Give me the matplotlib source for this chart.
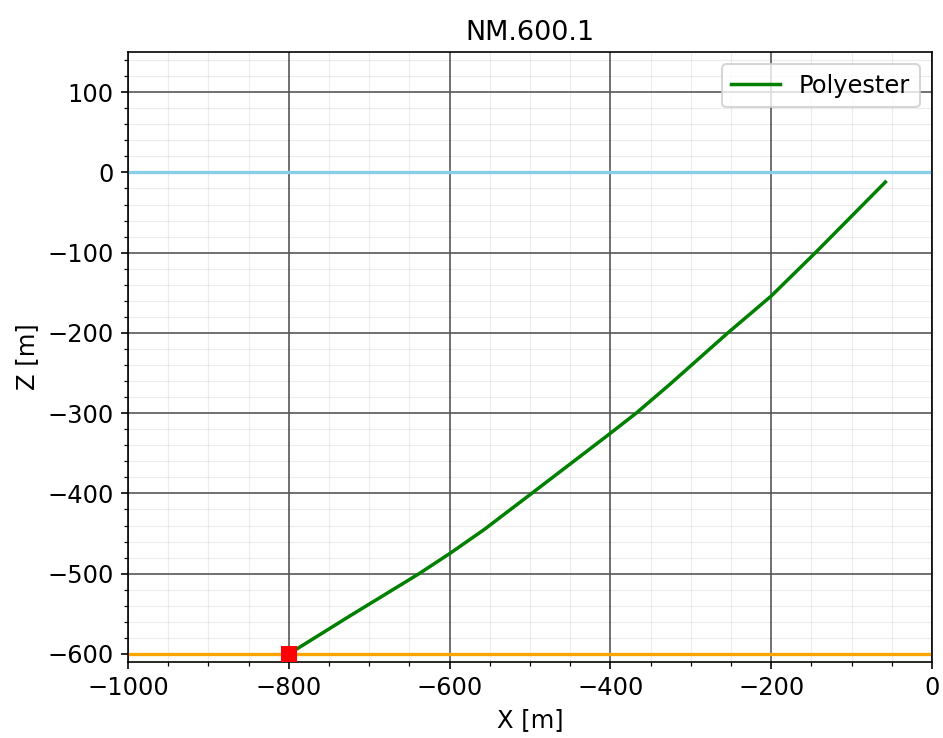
import numpy as np
import matplotlib
matplotlib.use('Agg')
import matplotlib.pyplot as plt
from matplotlib.ticker import MultipleLocator

# mooring line profile
line_x = [-800, -723, -638, -600, -557, -498, -400, -368, -326, -254, -200, -145, -58]
line_z = [-600, -552, -500, -475, -445, -400, -325, -300, -264, -200, -154, -100, -12]
anchor = (-800, -600)
water_level = 0
seabed = -600

fig, ax = plt.subplots(figsize=(6.4, 738 / 147.35), dpi=147.35)
fig.subplots_adjust(left=0.1357, right=0.9883, top=0.9295, bottom=0.103)

ax.axhline(water_level, color='#87ceeb', lw=1.6, zorder=2)
ax.axhline(seabed, color='orange', lw=1.6, zorder=2)
ax.plot(line_x, line_z, color='green', lw=1.7, label='Polyester', zorder=3)
ax.plot(*anchor, 's', color='red', markersize=7, zorder=4)

ax.set_xlim(-1000, 0)
ax.set_ylim(-610, 150)
ax.xaxis.set_major_locator(MultipleLocator(200))
ax.xaxis.set_minor_locator(MultipleLocator(50))
ax.yaxis.set_major_locator(MultipleLocator(100))
ax.yaxis.set_minor_locator(MultipleLocator(20))
ax.tick_params(labelsize=11.8)
ax.grid(which='minor', color='black', alpha=0.07, lw=0.6)
ax.grid(which='major', color='#555555', lw=0.8)
ax.set_axisbelow(True)

ax.set_title('NM.600.1', fontsize=13.2)
ax.set_xlabel('X [m]', fontsize=11.8)
ax.set_ylabel('Z [m]', fontsize=11.8)
ax.legend(loc='upper right', fontsize=11.8)

plt.savefig('out.png')
